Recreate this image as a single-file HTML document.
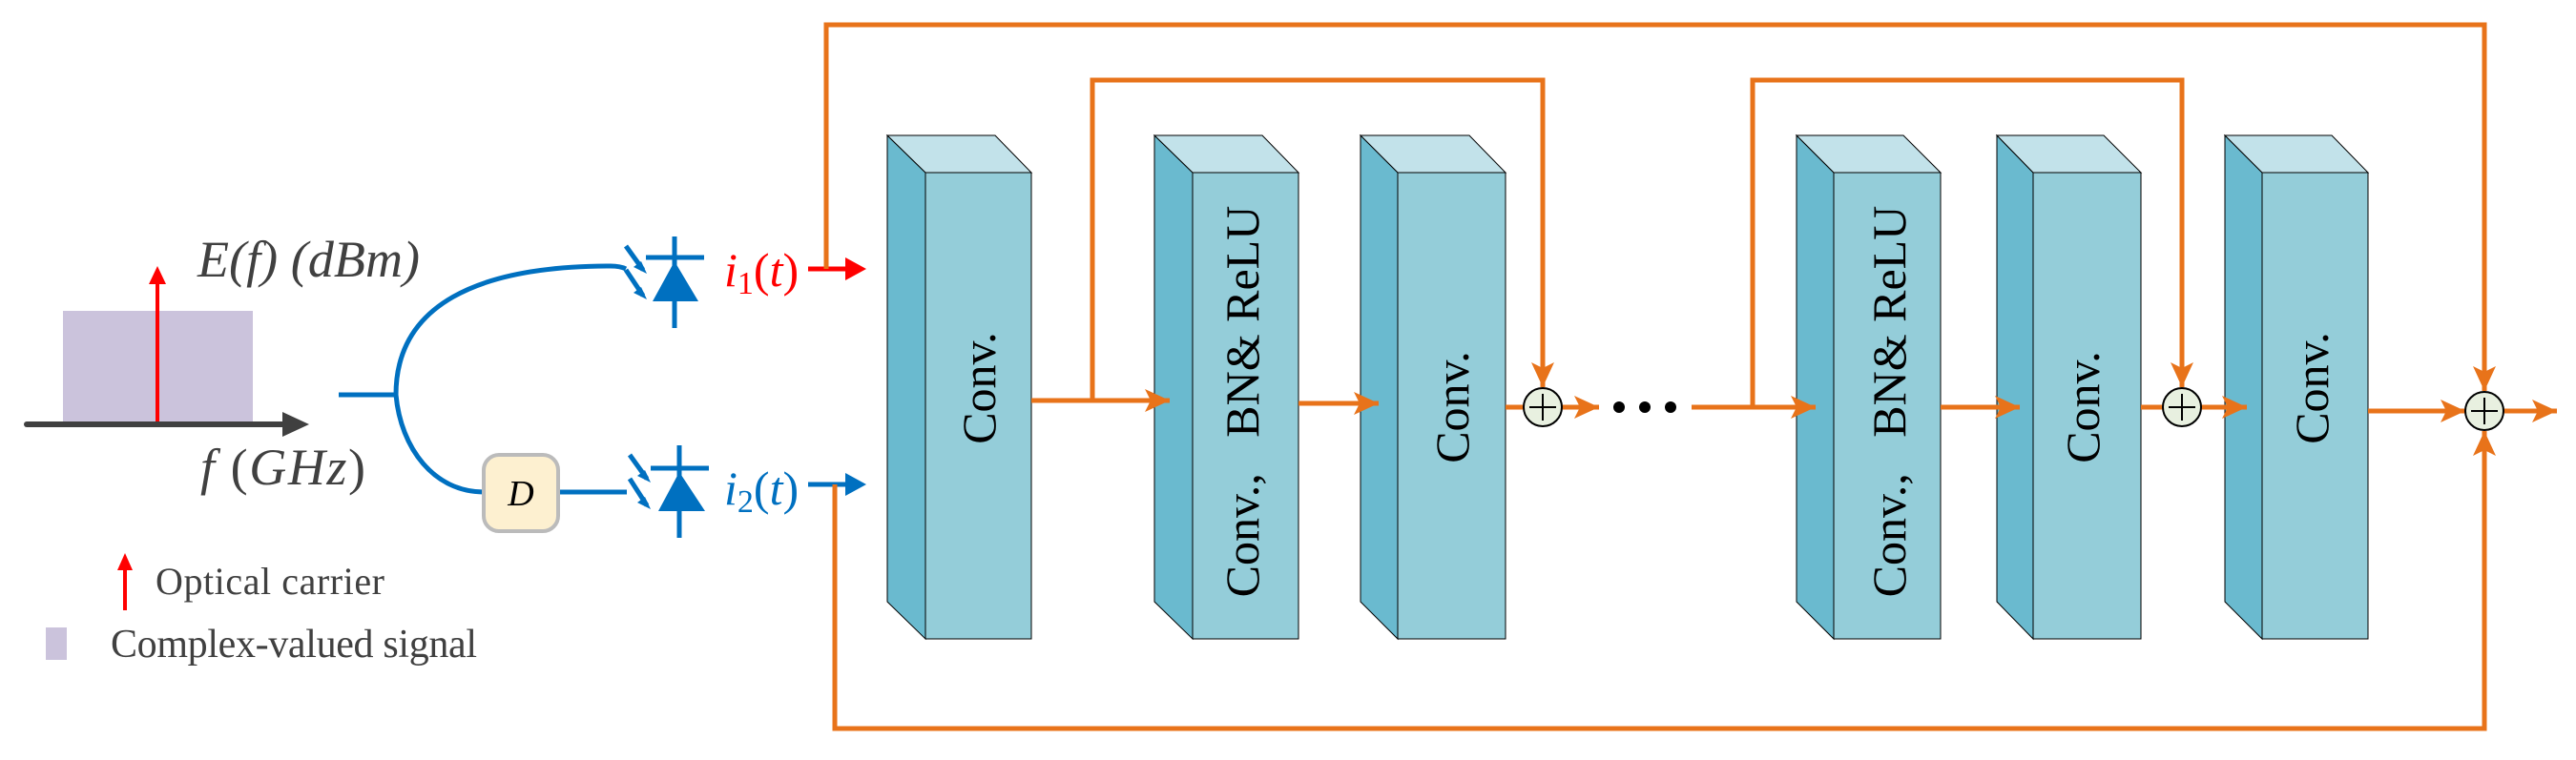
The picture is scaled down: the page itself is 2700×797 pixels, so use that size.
<!DOCTYPE html>
<html><head><meta charset="utf-8"><style>html,body{margin:0;padding:0;background:#fff}svg{display:block}svg text{font-family:"Liberation Serif","Times New Roman",serif}</style></head>
<body>
<svg width="2700" height="797" viewBox="0 0 2700 797" xmlns="http://www.w3.org/2000/svg">
<defs>
<marker id="ao" markerWidth="26" markerHeight="24" refX="26" refY="12" orient="auto" markerUnits="userSpaceOnUse" viewBox="0 0 26 24"><path d="M0,0 L26,12 L0,24 L6,12 Z" fill="#e8731a"/></marker>
</defs>
<!-- spectrum -->
<rect x="66" y="326" width="199" height="116" fill="#cbc3dc"/>
<line x1="28" y1="445" x2="300" y2="445" stroke="#404040" stroke-width="6" stroke-linecap="round"/>
<polygon points="296,432 324,445 296,458" fill="#404040"/>
<line x1="165" y1="442" x2="165" y2="295" stroke="#ff0000" stroke-width="4"/>
<polygon points="156,298 165,279 174,298" fill="#ff0000"/>
<text x="207" y="290" font-size="54" font-style="italic" fill="#404040" textLength="233">E(f) (dBm)</text>
<text x="210" y="508" font-size="54" fill="#404040" textLength="173"><tspan font-style="italic">f</tspan> (<tspan font-style="italic">GHz</tspan>)</text>
<!-- legend -->
<line x1="131" y1="640" x2="131" y2="595" stroke="#ff0000" stroke-width="4"/>
<polygon points="123,598 131,580 139,598" fill="#ff0000"/>
<text x="163" y="623" font-size="40" fill="#404040" textLength="240">Optical carrier</text>
<rect x="48" y="658" width="22" height="34" fill="#cbc3dc"/>
<text x="116" y="689" font-size="42" fill="#404040" textLength="384">Complex-valued signal</text>
<!-- splitter -->
<g stroke="#0070c0" stroke-width="5" fill="none">
<line x1="355" y1="414" x2="415" y2="414"/>
<path d="M415,414 C415,320 500,279 640,279 Q650,279 656,282"/>
<path d="M415,414 C420,470 455,516 507,516"/>
<line x1="585" y1="516" x2="657" y2="516"/>
<line x1="707" y1="248" x2="707" y2="344"/><line x1="677" y1="270" x2="738" y2="270"/>
<line x1="712" y1="467" x2="712" y2="564"/><line x1="682" y1="491" x2="743" y2="491"/>
<line x1="656" y1="258" x2="674" y2="283"/><line x1="656" y1="283" x2="674" y2="310"/>
<line x1="660" y1="477" x2="678" y2="502"/><line x1="660" y1="502" x2="678" y2="530"/>
</g>
<polygon points="707,274 684,316 732,316" fill="#0070c0"/>
<polygon points="712,495 690,536 739,536" fill="#0070c0"/>
<g fill="#0070c0"><polygon points="678,287 664,280 672,274"/><polygon points="678,314 664,307 672,301"/><polygon points="682,506 668,499 676,493"/><polygon points="682,534 668,527 676,521"/></g>
<rect x="507" y="477" width="78" height="80" rx="16" fill="#fdf0d0" stroke="#bbbbbb" stroke-width="4"/>
<text x="546" y="530" font-size="38" font-style="italic" text-anchor="middle" fill="#000">D</text>
<text x="759" y="300" font-size="50" fill="#ff0000"><tspan font-style="italic">i</tspan><tspan font-size="34" dy="8">1</tspan><tspan dy="-8">(</tspan><tspan font-style="italic">t</tspan>)</text>
<text x="759" y="529" font-size="50" fill="#0070c0"><tspan font-style="italic">i</tspan><tspan font-size="34" dy="8">2</tspan><tspan dy="-8">(</tspan><tspan font-style="italic">t</tspan>)</text>
<line x1="847" y1="282" x2="890" y2="282" stroke="#ff0000" stroke-width="5"/>
<polygon points="886,270 908,282 886,294" fill="#ff0000"/>
<line x1="847" y1="508" x2="890" y2="508" stroke="#0070c0" stroke-width="5"/>
<polygon points="886,496 908,508 886,520" fill="#0070c0"/>
<!-- blocks -->
<g stroke="#000" stroke-width="1">
<polygon points="930,142 970,181 970,670 930,631" fill="#6abacf"/><polygon points="930,142 1043,142 1081,181 970,181" fill="#c2e2ea"/><rect x="970" y="181" width="111" height="489" fill="#94cdd9"/>
<polygon points="1210,142 1250,181 1250,670 1210,631" fill="#6abacf"/><polygon points="1210,142 1323,142 1361,181 1250,181" fill="#c2e2ea"/><rect x="1250" y="181" width="111" height="489" fill="#94cdd9"/>
<polygon points="1426,142 1465,181 1465,670 1426,631" fill="#6abacf"/><polygon points="1426,142 1540,142 1578,181 1465,181" fill="#c2e2ea"/><rect x="1465" y="181" width="113" height="489" fill="#94cdd9"/>
<polygon points="1883,142 1922,181 1922,670 1883,631" fill="#6abacf"/><polygon points="1883,142 1995,142 2034,181 1922,181" fill="#c2e2ea"/><rect x="1922" y="181" width="112" height="489" fill="#94cdd9"/>
<polygon points="2093,142 2131,181 2131,670 2093,631" fill="#6abacf"/><polygon points="2093,142 2205,142 2244,181 2131,181" fill="#c2e2ea"/><rect x="2131" y="181" width="113" height="489" fill="#94cdd9"/>
<polygon points="2332,142 2371,181 2371,670 2332,631" fill="#6abacf"/><polygon points="2332,142 2444,142 2482,181 2371,181" fill="#c2e2ea"/><rect x="2371" y="181" width="111" height="489" fill="#94cdd9"/>
</g>
<g font-size="50" fill="#000" text-anchor="middle">
<text transform="translate(1043,407) rotate(-90)">Conv.</text>
<text transform="translate(1539,427) rotate(-90)">Conv.</text>
<text transform="translate(2200,427) rotate(-90)">Conv.</text>
<text transform="translate(2440,407) rotate(-90)">Conv.</text>
<text transform="translate(1319,421) rotate(-90)" xml:space="preserve">Conv.,   BN&amp; ReLU</text>
<text transform="translate(1997,421) rotate(-90)" xml:space="preserve">Conv.,   BN&amp; ReLU</text>
</g>
<!-- orange connectors -->
<g stroke="#e8731a" stroke-width="5" fill="none">
<polyline points="866,282 866,26 2604,26 2604,410" marker-end="url(#ao)"/>
<polyline points="875,508 875,764 2604,764 2604,452" marker-end="url(#ao)"/>
<line x1="1081" y1="420" x2="1226" y2="420" marker-end="url(#ao)"/>
<polyline points="1145,420 1145,84 1617,84 1617,406" marker-end="url(#ao)"/>
<line x1="1361" y1="423" x2="1445" y2="423" marker-end="url(#ao)"/>
<line x1="1578" y1="427" x2="1597" y2="427"/>
<line x1="1637" y1="427" x2="1676" y2="427" marker-end="url(#ao)"/>
<line x1="1773" y1="427" x2="1903" y2="427" marker-end="url(#ao)"/>
<polyline points="1837,427 1837,84 2287,84 2287,406" marker-end="url(#ao)"/>
<line x1="2034" y1="427" x2="2117" y2="427" marker-end="url(#ao)"/>
<line x1="2244" y1="427" x2="2267" y2="427"/>
<line x1="2307" y1="427" x2="2355" y2="427" marker-end="url(#ao)"/>
<line x1="2482" y1="431" x2="2584" y2="431" marker-end="url(#ao)"/>
<line x1="2624" y1="431" x2="2680" y2="431" marker-end="url(#ao)"/>
</g>
<g fill="#e8f0e0" stroke="#000" stroke-width="2">
<circle cx="1617" cy="427" r="20"/><circle cx="2287" cy="427" r="20"/><circle cx="2604" cy="431" r="20"/>
</g>
<g stroke="#000" stroke-width="2">
<line x1="1603" y1="427" x2="1631" y2="427"/><line x1="1617" y1="413" x2="1617" y2="441"/>
<line x1="2273" y1="427" x2="2301" y2="427"/><line x1="2287" y1="413" x2="2287" y2="441"/>
<line x1="2590" y1="431" x2="2618" y2="431"/><line x1="2604" y1="417" x2="2604" y2="445"/>
</g>
<g fill="#000"><circle cx="1697" cy="427" r="6"/><circle cx="1724" cy="427" r="6"/><circle cx="1751" cy="427" r="6"/></g>
</svg>
</body></html>
